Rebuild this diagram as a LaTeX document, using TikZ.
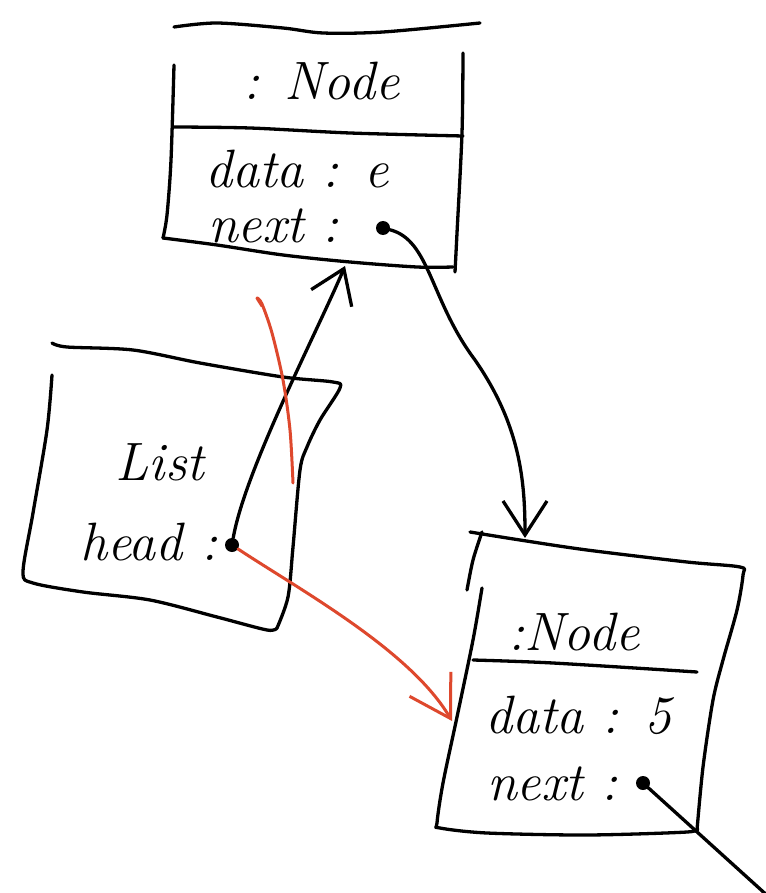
\documentclass[tikz,border=0pt]{standalone}
\usetikzlibrary{arrows.meta}
\definecolor{redpen}{RGB}{222,72,45}
\begin{document}
\begin{tikzpicture}[x=1pt,y=-1pt,
  ink/.style={line width=3.3pt,line cap=round,line join=round},
  redink/.style={ink,line width=3pt,draw=redpen},
  hand/.style={font=\fontsize{54}{60}\selectfont\itshape,inner sep=0pt,anchor=base west},
  dotnode/.style={circle,fill=black,inner sep=0pt,minimum size=14pt},
  barb/.style={-{Straight Barb[length=#1,width=44pt]}},
]
\useasboundingbox[fill=white] (0,0) rectangle (765,893);

% ---- upper Node object ----
\draw[ink] plot[smooth] coordinates {(174,27) (217,23) (283,28) (323,33) (383,32) (480,23)};
\draw[ink] plot[smooth] coordinates {(174,65) (171,160) (167,215) (163,238)};
\draw[ink] plot[smooth] coordinates {(163,238) (217,245) (283,255) (350,262) (417,267) (453,267)};
\draw[ink] plot[smooth] coordinates {(463,53) (462,133) (457,233) (455,272)};
\draw[ink] plot[smooth] coordinates {(173,127) (250,128) (350,133) (463,136)};
\node[hand] (t1) at (243,100) {: Node};
\node[hand] (d1) at (205,188) {data : e};
\node[hand] (x1) at (208,243) {next :};
\node[dotnode] (n1next) at (383,228) {};
\coordinate (n1in) at (345,266);

% ---- List object ----
\draw[ink] plot[smooth] coordinates {(52,343) (67,347) (133,350) (200,363) (283,377) (333,382) (340,388) (320,420) (307,447) (300,470) (293,547) (288,597) (277,628)};
\draw[ink] plot[smooth] coordinates {(52,375) (47,430) (33,513) (23,572) (33,583) (83,592) (150,600) (217,617) (267,630) (277,628)};
\node[hand,anchor=base] (tl) at (160,480) {List};
\node[hand] (hl) at (80,560) {head :};
\node[dotnode] (hd) at (232,545) {};

% ---- lower Node object ----
\draw[ink] plot[smooth] coordinates {(470,532) (520,540) (587,550) (687,562) (740,567) (743,575) (737,610) (723,660) (713,700) (703,767) (697,830)};
\draw[ink] plot[smooth] coordinates {(482,532) (473,560) (467,590)};
\draw[ink] plot[smooth] coordinates {(482,588) (473,640) (457,717) (443,783) (437,823) (440,828) (487,833) (587,835) (687,832) (697,828)};
\draw[ink] plot[smooth] coordinates {(473,660) (553,663) (697,672)};
\node[hand] (t2) at (508,650) {:Node};
\node[hand] (d2) at (485,733) {data : 5};
\node[hand] (x2) at (487,800) {next :};
\node[dotnode] (n2next) at (643,783) {};
\coordinate (n2in) at (525,538);
\coordinate (n2side) at (452,721);
\coordinate (offpage) at (770,898);

% ---- references ----
\draw[ink,barb=32pt] (hd) .. controls (245,470) and (318,330) .. (n1in);
\draw[ink,barb=34pt] (n1next) .. controls (430,240) and (430,300) .. (475,360)
   .. controls (520,425) and (525,480) .. (n2in);
\draw[ink] (n2next) -- (offpage);

% ---- rerouted head pointer ----
\draw[redink] plot[smooth] coordinates {(262,306) (257,298) (262,304) (272,333) (283,380) (290,430) (293,483)};
\draw[redink,-{Straight Barb[length=40pt,width=48pt]}] (hd) .. controls (300,590) and (410,650) .. (n2side);
\end{tikzpicture}
\end{document}
